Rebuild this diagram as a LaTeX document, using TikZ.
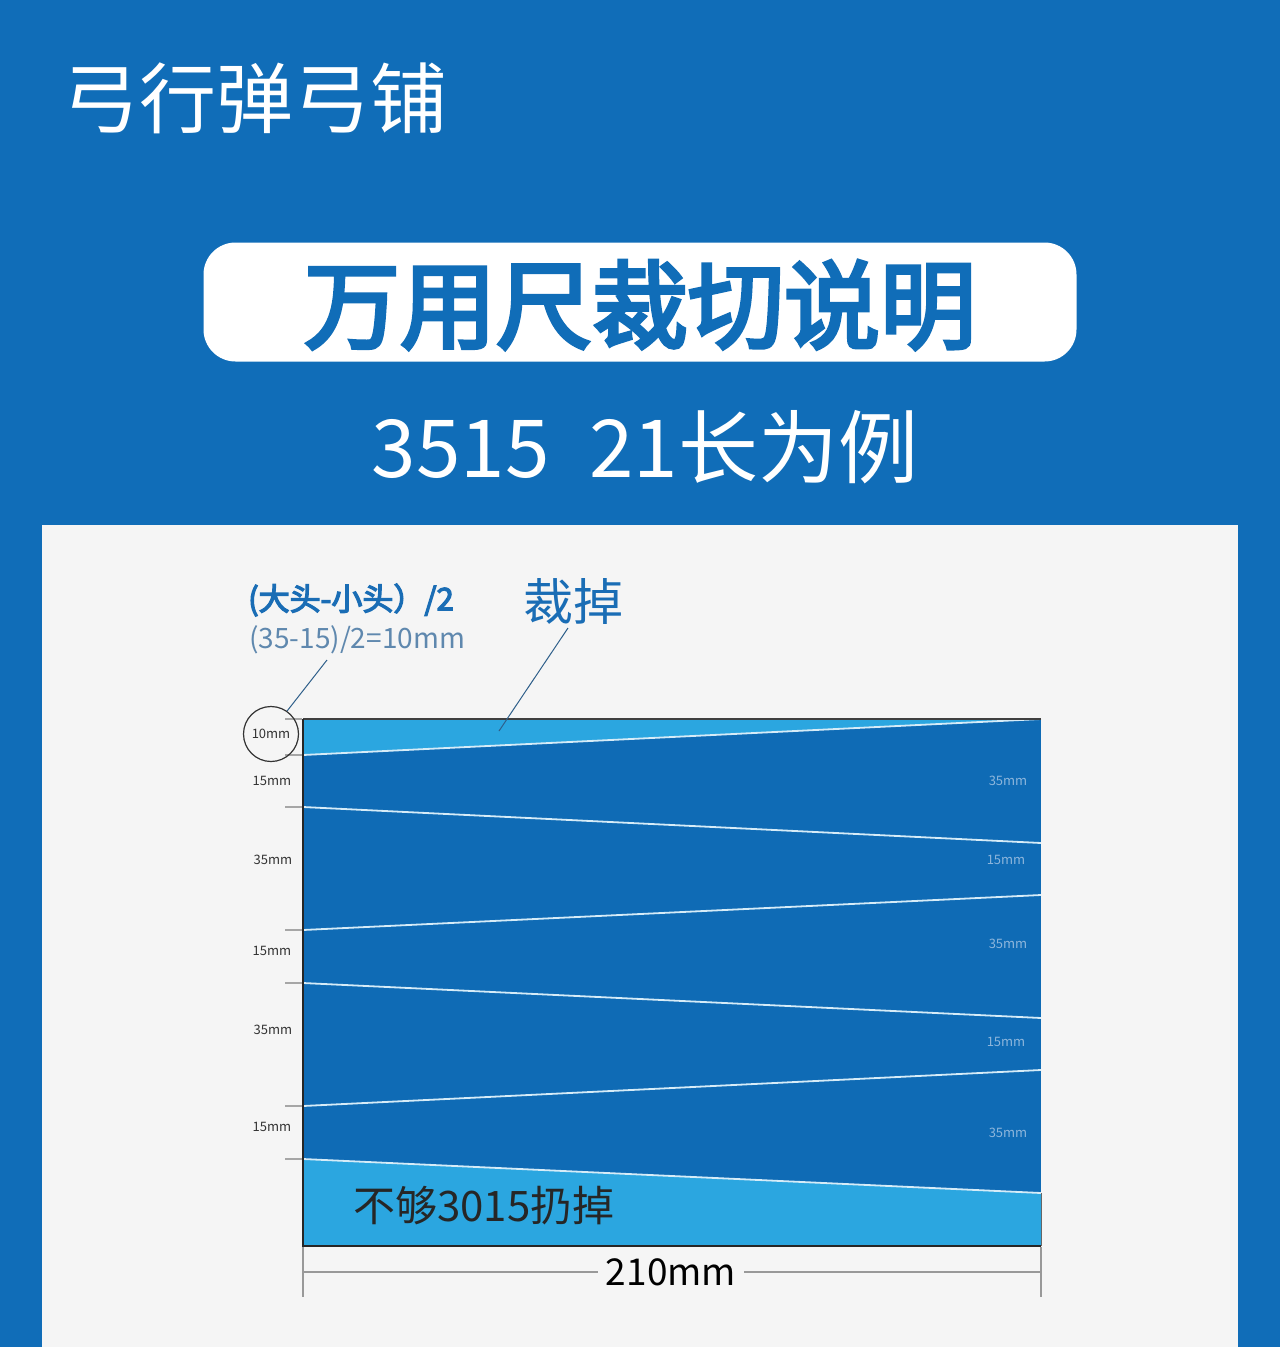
\documentclass[tikz,border=0pt]{standalone}
\usepackage{fontspec}
\setmainfont{Noto Sans CJK SC}[AutoFakeBold=2.5]
\newfontfamily\cjkheavy{Noto Sans CJK SC}[AutoFakeBold=4]
\definecolor{bgblue}{HTML}{106DB8}
\definecolor{stripblue}{HTML}{0F6BB5}
\definecolor{lightblue}{HTML}{2BA6E0}
\definecolor{panel}{HTML}{F5F5F5}
\definecolor{sepline}{HTML}{D6ECF8}
\definecolor{labgray}{HTML}{333333}
\definecolor{rightlab}{HTML}{8DB6DC}
\definecolor{titleblue}{HTML}{1A6DB5}
\definecolor{formgray}{HTML}{5F88AE}
\definecolor{leader}{HTML}{2F5F8A}
\tikzset{
  fs/.style={font=\fontsize{#1}{#1}\selectfont},
  fsb/.style={font=\fontsize{#1}{#1}\selectfont\cjkheavy\bfseries},
  sep/.style={sepline, line width=1.8pt},
  tickm/.style={gray!70, line width=1.2pt},
  dimline/.style={gray!80, line width=1.2pt},
  leftlab/.style={text=labgray, fs=13, inner sep=0pt},
  rlab/.style={text=rightlab, fs=13, inner sep=0pt},
  lead/.style={leader, line width=1pt},
}
\begin{document}
\begin{tikzpicture}[x=1pt,y=-1pt]
\useasboundingbox (0,0) rectangle (1280,1347);
\fill[bgblue] (0,0) rectangle (1280,1347);
\fill[panel] (42,525) rectangle (1238,1347);

% header
\node[text=white, fs=77, inner sep=0pt, anchor=west] (brand) at (62,98) {弓行弹弓铺};
\node[fill=white, rounded corners=32pt, minimum width=873pt, minimum height=119pt] (titlebox) at (640,302) {};
\node[text=bgblue, inner sep=0pt, fsb=96] (title) at (640,305) {万用尺裁切说明};
\node[text=white, fs=80, inner sep=0pt] (sub) at (645,447) {3515\hspace{0.5em}21长为例};

% main strip
\fill[stripblue] (303,719) rectangle (1041,1246);
\fill[lightblue] (303,719) -- (1041,719) -- (303,755) -- cycle;
\fill[lightblue] (303,1159) -- (1041,1193) -- (1041,1246) -- (303,1246) -- cycle;

\coordinate (L1) at (303,755); \coordinate (R1) at (1041,719);
\coordinate (L2) at (303,807); \coordinate (R2) at (1041,843);
\coordinate (L3) at (303,930); \coordinate (R3) at (1041,895);
\coordinate (L4) at (303,983); \coordinate (R4) at (1041,1018);
\coordinate (L5) at (303,1106); \coordinate (R5) at (1041,1070);
\coordinate (L6) at (303,1159); \coordinate (R6) at (1041,1193);
\foreach \i in {1,...,6} { \draw[sep] (L\i) -- (R\i); }

% borders
\draw[black!75, line width=1.2pt] (303,719) -- (1041,719);
\draw[black!85, line width=1.5pt] (303,719) -- (303,1246) -- (1041,1246);
\draw[black!60, line width=0.8pt] (1041,1193) -- (1041,1246);

% left ticks
\foreach \y in {719,755,807,930,983,1106,1159} { \draw[tickm] (285,\y) -- (302,\y); }

% left labels
\node[draw=black!80, line width=1.2pt, circle, minimum size=55pt, text=labgray, fs=13, inner sep=0pt] (c10) at (271,734) {10mm};
\node[leftlab] (l1) at (272,781) {15mm};
\node[leftlab] (l2) at (273,860) {35mm};
\node[leftlab] (l3) at (272,951) {15mm};
\node[leftlab] (l4) at (273,1030) {35mm};
\node[leftlab] (l5) at (272,1127) {15mm};

% right labels
\node[rlab] (r1) at (1008,781) {35mm};
\node[rlab] (r2) at (1006,860) {15mm};
\node[rlab] (r3) at (1008,944) {35mm};
\node[rlab] (r4) at (1006,1042) {15mm};
\node[rlab] (r5) at (1008,1133) {35mm};

% annotations
\node[text=titleblue, fsb=31, inner sep=0pt, anchor=west] (formula) at (248,600) {(大头-小头）/2};
\node[text=formgray, fs=28, inner sep=0pt, anchor=west] (calc) at (249,640) {(35-15)/2=10mm};
\node[text=titleblue, fs=50, inner sep=0pt] (cut) at (573,601) {裁掉};
\coordinate (calcpt) at (327,660);
\coordinate (cutpt) at (568,628);
\coordinate (cutend) at (499,731);
\draw[lead] (c10.55) -- (calcpt);
\draw[lead] (cutpt) -- (cutend);

\node[text=black!85, fs=42, inner sep=0pt, anchor=west] (waste) at (353,1206) {不够3015扔掉};

% dimension
\coordinate (dl) at (303,1272);
\coordinate (dr) at (1041,1272);
\draw[dimline] (303,1247) -- (303,1297);
\draw[dimline] (1041,1247) -- (1041,1297);
\node[text=black, fs=37, inner sep=0pt, inner xsep=8pt] (dim) at (671,1272) {210mm};
\draw[dimline] (dl) -- (dl -| dim.west);
\draw[dimline] (dr -| dim.east) -- (dr);
\end{tikzpicture}
\end{document}
